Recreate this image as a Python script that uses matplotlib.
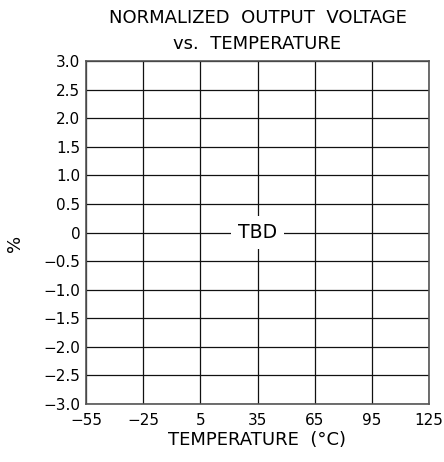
import matplotlib
matplotlib.use("Agg")
import matplotlib.pyplot as plt

x_ticks = [-55, -25, 5, 35, 65, 95, 125]
y_ticks = [-3.0, -2.5, -2.0, -1.5, -1.0, -0.5, 0, 0.5, 1.0, 1.5, 2.0, 2.5, 3.0]
y_labels = ["\u22123.0", "\u22122.5", "\u22122.0", "\u22121.5", "\u22121.0", "\u22120.5", "0",
            "0.5", "1.0", "1.5", "2.0", "2.5", "3.0"]
x_labels = ["\u221255", "\u221225", "5", "35", "65", "95", "125"]
note = "TBD"

plt.rcParams['font.family'] = ['DejaVu Sans']

fig = plt.figure(figsize=(4.44, 4.62), dpi=100)
ax = fig.add_axes([0.194, 0.1255, 0.772, 0.7425])

ax.set_xlim(x_ticks[0], x_ticks[-1])
ax.set_ylim(y_ticks[0], y_ticks[-1])
ax.set_xticks(x_ticks)
ax.set_xticklabels(x_labels, fontsize=11)
ax.set_yticks(y_ticks)
ax.set_yticklabels(y_labels, fontsize=11)
ax.tick_params(axis="x", length=0, pad=6.5)
ax.tick_params(axis="y", length=0, pad=4.3)
ax.grid(True, color="#111111", linewidth=0.9)
for s in ax.spines.values():
    s.set_color("#555555")
    s.set_linewidth(1.2)

ax.text(35, 0, note, ha="center", va="center", fontsize=13.5,
        bbox=dict(facecolor="white", edgecolor="none", pad=5), zorder=5)

fig.text(0.58, 0.96, "NORMALIZED  OUTPUT  VOLTAGE", ha="center", va="center", fontsize=13)
fig.text(0.58, 0.904, "vs.  TEMPERATURE", ha="center", va="center", fontsize=13)
fig.text(0.578, 0.047, "TEMPERATURE  (\u00b0C)", ha="center", va="center", fontsize=13)
fig.text(0.034, 0.474, "%", ha="center", va="center", fontsize=13, rotation=90)

fig.savefig("out.png", dpi=100)
